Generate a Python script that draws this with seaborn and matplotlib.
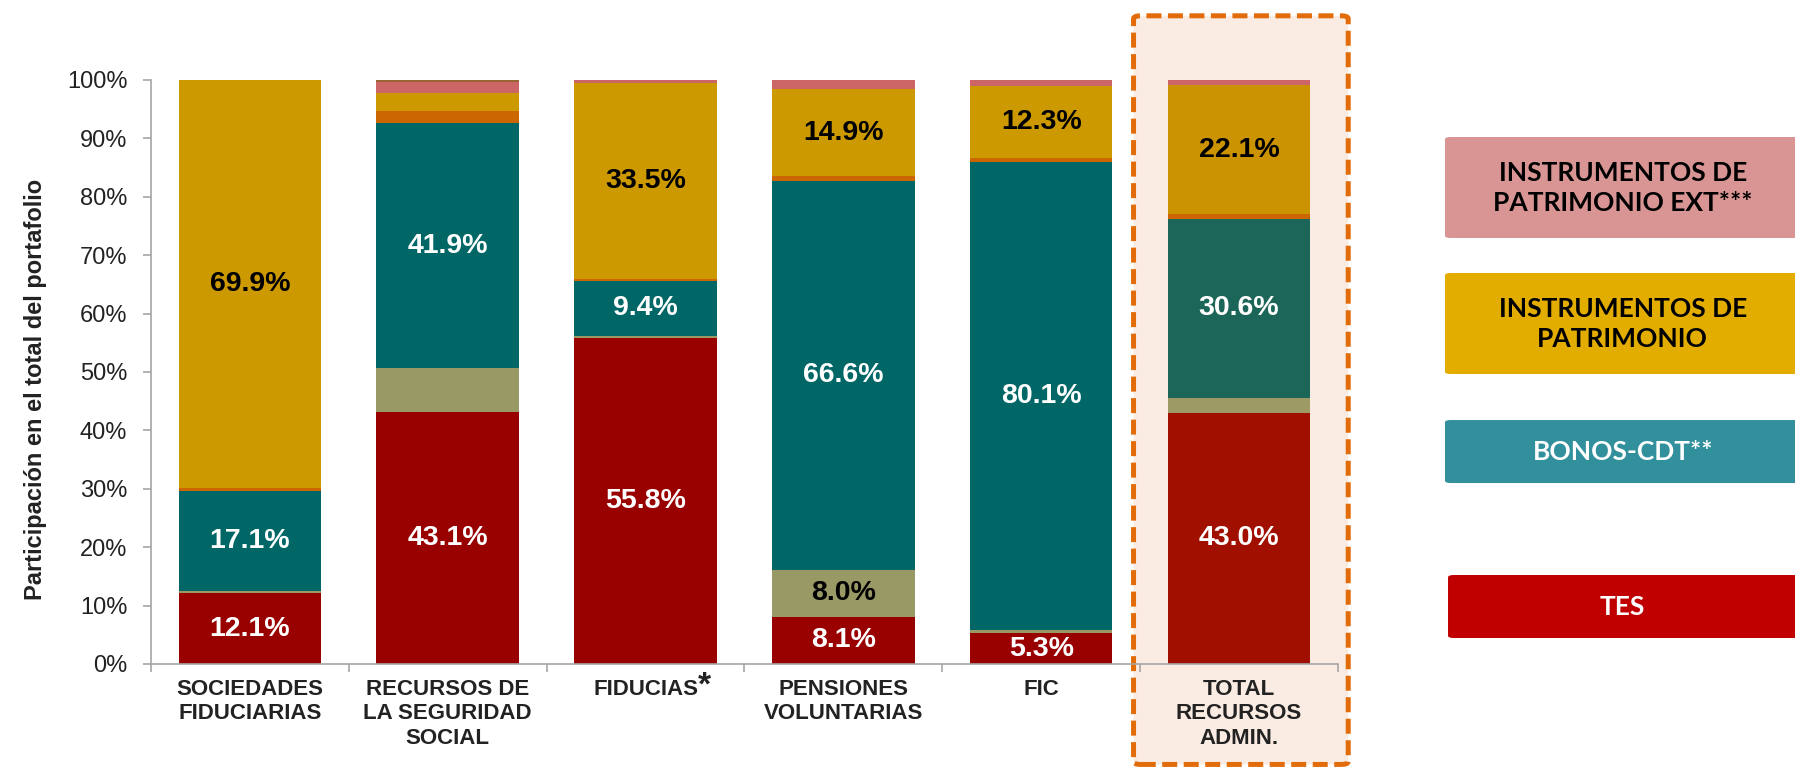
import matplotlib
matplotlib.use("Agg")
import matplotlib.pyplot as plt
from matplotlib.patches import FancyBboxPatch
import numpy as np
import pandas as pd
import seaborn as sns

sns.set_style("ticks")
plt.rcParams['font.family'] = ['Liberation Sans', 'DejaVu Sans']

categorias = ['SOCIEDADES FIDUCIARIAS', 'RECURSOS DE LA SEGURIDAD SOCIAL', 'FIDUCIAS',
              'PENSIONES VOLUNTARIAS', 'FIC', 'TOTAL RECURSOS ADMIN.']
etiquetas_x = ['SOCIEDADES\nFIDUCIARIAS', 'RECURSOS DE\nLA SEGURIDAD\nSOCIAL', 'FIDUCIAS',
               'PENSIONES\nVOLUNTARIAS', 'FIC', 'TOTAL\nRECURSOS\nADMIN.']

# participacion (%) de cada tipo de activo, de abajo hacia arriba
tes            = [12.1, 43.1, 55.8,  8.1,  5.3, 43.0]
otros          = [ 0.4,  7.6,  0.4,  8.0,  0.5,  2.6]
bonos_cdt      = [17.1, 41.9,  9.4, 66.6, 80.1, 30.6]
otros_fondos   = [ 0.5,  2.1,  0.3,  0.8,  0.7,  0.8]
patrimonio     = [69.9,  3.1, 33.5, 14.9, 12.3, 22.1]
patrimonio_ext = [ 0.0,  1.9,  0.6,  1.6,  1.1,  0.9]
resto          = [ 0.0,  0.3,  0.0,  0.0,  0.0,  0.0]

# que segmentos llevan etiqueta
mostrar_tes = [True] * 6
mostrar_otros = [False, False, False, True, False, False]
mostrar_bonos = [True] * 6
mostrar_patrimonio = [True, False, True, True, True, True]

leyenda = ['INSTRUMENTOS DE\nPATRIMONIO EXT***', 'INSTRUMENTOS DE\nPATRIMONIO', 'BONOS-CDT**', 'TES']

series = [
    # nombre, valores, color, color barra total, mostrar, color texto
    ('tes', tes, '#990000', '#A00F00', mostrar_tes, 'white'),
    ('otros', otros, '#999966', '#9E9A66', mostrar_otros, 'black'),
    ('bonos', bonos_cdt, '#006666', '#1B6659', mostrar_bonos, 'white'),
    ('otros_fondos', otros_fondos, '#CC6600', '#CC6600', None, 'black'),
    ('patrimonio', patrimonio, '#CC9900', '#CC9300', mostrar_patrimonio, 'black'),
    ('patrimonio_ext', patrimonio_ext, '#CC6666', '#CC6666', None, 'black'),
    ('resto', resto, '#996633', '#996633', None, 'black'),
]

fig = plt.figure(figsize=(17.95, 7.71), dpi=100)
ax = fig.add_axes([0.0841, 0.1388, 0.6613, 0.7575])
ax.set_facecolor('none')

# recuadro resaltando el total
fig.patches.append(FancyBboxPatch((0.6315, 0.0085), 0.1196, 0.971,
                                  boxstyle='round,pad=0,rounding_size=0.004',
                                  transform=fig.transFigure, facecolor='#FAECE2',
                                  edgecolor='#E36C0A', linewidth=3.6,
                                  linestyle=(0, (3, 1.3)), zorder=-1))

acumulado = np.cumsum([s[1] for s in series], axis=0)
bases = np.vstack([np.zeros(6), acumulado])

# se dibuja de arriba hacia abajo para que cada capa tape a la anterior
for k in range(len(series) - 1, -1, -1):
    nombre, valores, color, color_total, _, _ = series[k]
    df = pd.DataFrame({'categoria': categorias, 'valor': acumulado[k]})
    paleta = {c: color for c in categorias}
    paleta[categorias[-1]] = color_total
    sns.barplot(data=df, x='categoria', y='valor', hue='categoria', palette=paleta,
                width=0.72, dodge=False, legend=False, saturation=1, linewidth=0, ax=ax)

for k, (nombre, valores, color, color_total, mostrar, color_txt) in enumerate(series):
    if mostrar is None:
        continue
    for i, v in enumerate(valores):
        if mostrar[i]:
            ax.text(i, bases[k][i] + v / 2, f"{v:.1f}%", ha='center', va='center',
                    fontsize=20.5, fontweight='bold', color=color_txt)

ax.set_xlim(-0.5, 5.5)
ax.set_ylim(0, 100)
ax.set_yticks(range(0, 101, 10))
ax.set_yticklabels([f"{v}%" for v in range(0, 101, 10)], fontsize=17, color='#222222')
ax.set_xticks(range(6))
ax.set_xticklabels(etiquetas_x, fontsize=16, fontweight='bold', color='#222222', linespacing=1.2)
ax.set_xticks(np.arange(-0.5, 6, 1), minor=True)
ax.tick_params(axis='y', length=6, width=1.2, color='#A6A6A6', pad=11)
ax.tick_params(axis='x', which='major', length=0, pad=11)
ax.tick_params(axis='x', which='minor', length=6, width=1.2, color='#A6A6A6')
ax.set_xlabel('')
ax.set_ylabel('')
sns.despine(ax=ax)
for lado in ['left', 'bottom']:
    ax.spines[lado].set_color('#A6A6A6')
    ax.spines[lado].set_linewidth(1.2)

# asterisco grande junto a FIDUCIAS
ax.annotate('*', xy=(2, 0), xycoords=('data', 'axes fraction'), xytext=(38, -5),
            textcoords='offset points', ha='left', va='top', fontsize=24,
            fontweight='bold', color='#222222')

fig.text(0.0195, 0.495, 'Participación en el total del portafolio', rotation=90,
         ha='center', va='center', fontsize=17, fontweight='bold', color='#222222')

# cajas de la leyenda
cajas = [
    (0.805, 0.6913, 0.131, '#D99594', 'black'),
    (0.805, 0.5149, 0.131, '#E3AD00', 'black'),
    (0.805, 0.3735, 0.0817, '#31909C', 'white'),
    (0.8067, 0.1725, 0.0817, '#C00000', 'white'),
]
for texto, (x0, y0, h, fc, tc) in zip(leyenda, cajas):
    fig.patches.append(FancyBboxPatch((x0, y0), 0.21, h,
                                      boxstyle='round,pad=0,rounding_size=0.003',
                                      transform=fig.transFigure, facecolor=fc,
                                      edgecolor='none'))
    fig.text(0.904, y0 + h / 2, texto, ha='center', va='center', fontsize=19,
             fontweight='bold', color=tc, linespacing=1.3, family=['Lato', 'DejaVu Sans'])

fig.savefig('out.png', dpi=100)
